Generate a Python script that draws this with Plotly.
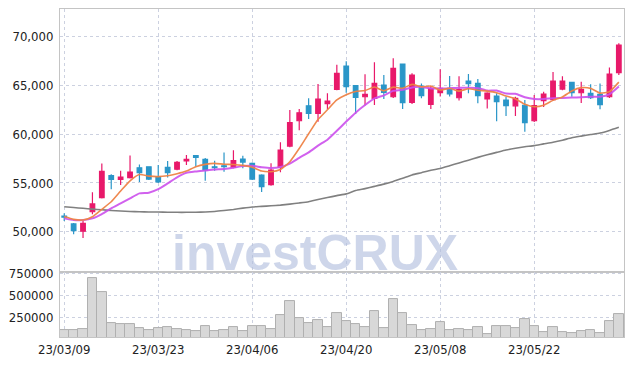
import plotly.graph_objects as go
from plotly.subplots import make_subplots

dates = ["23/03/09", "23/03/10", "23/03/13", "23/03/14", "23/03/15", "23/03/16", "23/03/17",
         "23/03/20", "23/03/21", "23/03/22", "23/03/23", "23/03/24", "23/03/27", "23/03/28",
         "23/03/29", "23/03/30", "23/03/31", "23/04/03", "23/04/04", "23/04/05", "23/04/06",
         "23/04/07", "23/04/10", "23/04/11", "23/04/12", "23/04/13", "23/04/14", "23/04/17",
         "23/04/18", "23/04/19", "23/04/20", "23/04/21", "23/04/24", "23/04/25", "23/04/26",
         "23/04/27", "23/04/28", "23/05/02", "23/05/03", "23/05/04", "23/05/08", "23/05/09",
         "23/05/10", "23/05/11", "23/05/12", "23/05/15", "23/05/16", "23/05/17", "23/05/18",
         "23/05/19", "23/05/22", "23/05/23", "23/05/24", "23/05/25", "23/05/26", "23/05/30",
         "23/05/31", "23/06/01", "23/06/02", "23/06/05"]

open_ = [51600, 50800, 50050, 52050, 53500, 55750, 55350, 55550, 56550, 56650,
         55650, 56600, 56400, 57270, 57800, 57420, 56660, 56760, 56580, 57450,
         57010, 55810, 54820, 56600, 58780, 61370, 62910, 62130, 63120, 64590,
         66980, 64960, 63830, 63670, 65030, 63830, 67180, 63240, 64930, 63050,
         64260, 64690, 63730, 65440, 65200, 63600, 63900, 63490, 62900, 62960,
         61370, 63440, 63540, 64620, 65310, 64240, 64180, 64080, 63830, 66310]
high = [51900, 50900, 51100, 54050, 57000, 55900, 56250, 57800, 56900, 56700,
        56850, 57250, 57250, 57850, 57830, 57550, 57270, 58120, 58340, 57790,
        57100, 55900, 57010, 59160, 62470, 62570, 63670, 65130, 64180, 67110,
        67460, 65000, 66130, 67360, 66060, 67770, 67200, 66250, 65200, 64930,
        66650, 65950, 65920, 66160, 65650, 64300, 64180, 63830, 63830, 63490,
        64010, 64340, 66360, 65930, 65350, 65370, 65100, 65200, 66820, 69300]
low = [51100, 49750, 49350, 51800, 53400, 54350, 54800, 55450, 55100, 55300,
       55000, 55550, 56300, 56850, 56650, 55230, 56250, 56150, 56500, 56500,
       55300, 54070, 54700, 56090, 58650, 60390, 61550, 61270, 62540, 64500,
       64240, 62060, 62930, 62980, 63600, 63700, 62570, 63080, 63670, 62570,
       63850, 63850, 63440, 64180, 63160, 62620, 61310, 61850, 61870, 60250,
       61250, 62780, 63450, 64500, 63830, 63190, 63600, 62540, 63700, 66060]
close = [51500, 50100, 50850, 52850, 56200, 55350, 55600, 56100, 56050, 55400,
         55100, 56050, 57100, 57420, 57620, 56320, 56560, 56660, 57300, 57140,
         55400, 54610, 56320, 58370, 61170, 62190, 62130, 63600, 63390, 66230,
         64860, 63770, 64080, 65200, 64280, 66740, 63220, 66060, 63930, 64690,
         64690, 64110, 64590, 65180, 63930, 64210, 63320, 62910, 63670, 61170,
         62930, 64090, 65440, 65440, 64240, 64600, 63730, 63010, 66160, 69130]

ma5 = [51550, 51270, 51200, 51540, 52300, 53070, 54170, 55220, 55860, 55700,
       55650, 55740, 55940, 56214, 56658, 56902, 57004, 56916, 56892, 56796,
       56612, 56222, 56154, 56368, 57174, 58532, 60036, 61492, 62496, 63508,
       64042, 64370, 64466, 64828, 64438, 64814, 64704, 65100, 64846, 64928,
       64518, 64696, 64402, 64652, 64500, 64404, 64246, 63910, 63608, 63056,
       62800, 62954, 63460, 63814, 64428, 64762, 64690, 64204, 64348, 65326]
ma10 = [51370, 51200, 51200, 51370, 51810, 52400, 52900, 53420, 53930, 54000,
        54360, 54955, 55580, 56037, 56179, 56276, 56372, 56428, 56553, 56727,
        56757, 56613, 56535, 56630, 56985, 57572, 58129, 58823, 59432, 60341,
        61287, 62203, 62979, 63662, 63973, 64428, 64537, 64783, 64837, 64683,
        64666, 64700, 64751, 64749, 64714, 64461, 64471, 64156, 64130, 63778,
        63602, 63600, 63685, 63711, 63742, 63781, 63822, 63832, 64081, 64877]
ma_long = [52560, 52480, 52400, 52320, 52250, 52180, 52120, 52080, 52050, 52030,
           52020, 52000, 51990, 51990, 52000, 52030, 52080, 52170, 52280, 52420,
           52540, 52600, 52660, 52730, 52830, 52950, 53080, 53300, 53500, 53700,
           53880, 54220, 54420, 54650, 54880, 55150, 55480, 55820, 56050, 56300,
           56480, 56760, 57050, 57330, 57620, 57880, 58130, 58380, 58550, 58700,
           58820, 59000, 59170, 59380, 59630, 59800, 59960, 60110, 60380, 60700]

volume = [104000, 104000, 115000, 700000, 538000, 181000, 169000, 169000, 125000, 104000,
          125000, 137000, 112000, 98000, 92000, 147000, 92000, 104000, 137000, 92000,
          147000, 147000, 115000, 275000, 438000, 240000, 181000, 217000, 137000, 296000,
          204000, 171000, 137000, 319000, 125000, 460000, 296000, 158000, 100000, 113000,
          194000, 100000, 113000, 104000, 134000, 56000, 146000, 146000, 125000, 229000,
          146000, 77000, 134000, 77000, 67000, 88000, 100000, 69000, 204000, 285000]

x_ticks = ["23/03/09", "23/03/23", "23/04/06", "23/04/20", "23/05/08", "23/05/22"]
price_ticks = [50000, 55000, 60000, 65000, 70000]
volume_ticks = [250000, 500000, 750000]

RED = "#e8196a"
BLUE = "#2a96c8"
GRID = "#ccd1e0"
BORDER = "#c4c4c4"
FONT = "DejaVu Sans Condensed"

fig = make_subplots(rows=2, cols=1, shared_xaxes=True, vertical_spacing=0,
                    row_heights=[0.802, 0.198])

fig.add_trace(go.Scatter(x=dates, y=ma_long, mode="lines",
                         line=dict(color="#808080", width=1.6, shape="spline", smoothing=0.5),
                         hoverinfo="skip", showlegend=False), row=1, col=1)
fig.add_trace(go.Scatter(x=dates, y=ma10, mode="lines",
                         line=dict(color="rgba(204,80,236,0.9)", width=2, shape="spline", smoothing=0.5),
                         hoverinfo="skip", showlegend=False), row=1, col=1)
fig.add_trace(go.Scatter(x=dates, y=ma5, mode="lines",
                         line=dict(color="rgba(238,130,70,0.95)", width=1.6, shape="spline", smoothing=0.5),
                         hoverinfo="skip", showlegend=False), row=1, col=1)

fig.add_trace(go.Candlestick(x=dates, open=open_, high=high, low=low, close=close,
                             increasing=dict(line=dict(color=RED, width=1.2), fillcolor=RED),
                             decreasing=dict(line=dict(color=BLUE, width=1.2), fillcolor=BLUE),
                             whiskerwidth=0, showlegend=False), row=1, col=1)

fig.add_trace(go.Bar(x=dates, y=volume, marker=dict(color="#d8d8d8", line=dict(color="#b0b0b0", width=1)),
                     showlegend=False), row=2, col=1)

fig.update_layout(
    width=634, height=366,
    margin=dict(l=60, r=10, t=9, b=29, autoexpand=False),
    paper_bgcolor="white", plot_bgcolor="white",
    font=dict(family=FONT, size=13, color="#222222"),
    bargap=0,
    showlegend=False,
)

axis_common = dict(showline=True, linecolor=BORDER, linewidth=1, mirror=True, automargin=False,
                   showgrid=True, gridcolor=GRID, griddash="dot", gridwidth=1, zeroline=False)

fig.update_xaxes(type="category", range=[-0.45, 59.55], tickmode="array", tickvals=x_ticks,
                 ticktext=x_ticks, rangeslider=dict(visible=False), **axis_common)
fig.update_xaxes(showticklabels=False, row=1, col=1)
fig.update_xaxes(showticklabels=True, ticks="", row=2, col=1)

fig.update_yaxes(range=[45870, 72820], tickvals=price_ticks, tickformat=",",
                 ticks="outside", ticklen=3, tickcolor="rgba(0,0,0,0)", row=1, col=1, **axis_common)
fig.update_yaxes(range=[20000, 770000], tickvals=volume_ticks, tickformat="d",
                 ticks="outside", ticklen=3, tickcolor="rgba(0,0,0,0)", row=2, col=1, **axis_common)

fig.add_annotation(text="<b>investCRUX</b>", xref="paper", yref="paper", x=0.452, y=0.256,
                   xanchor="center", yanchor="middle", showarrow=False,
                   font=dict(family="Liberation Sans", size=50, color="rgba(180,192,222,0.65)"))

fig.write_html("out.html", config={"displayModeBar": False},
               post_script="document.body.style.margin='0px';")
